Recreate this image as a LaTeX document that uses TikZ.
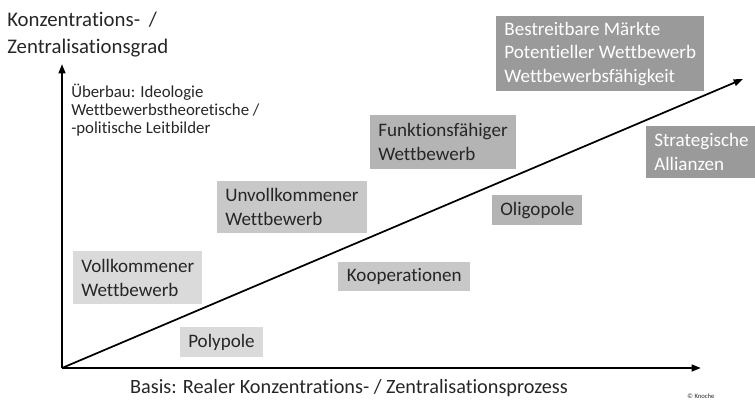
\documentclass[tikz,border=0pt]{standalone}
\usepackage{fontspec}
\setmainfont[Ligatures = NoCommon]{Carlito}
\usetikzlibrary{arrows.meta}
\definecolor{ink}{HTML}{262626}
\definecolor{lightbox}{HTML}{DADADA}
\definecolor{midbox}{HTML}{C8C8C8}
\definecolor{darkbox}{HTML}{B4B4B4}
\definecolor{deepbox}{HTML}{9A9A9A}
\tikzset{
    box/.style = {anchor = north west, inner xsep = 6pt, inner ysep = 3pt, align = left, text = ink,
                  font = \fontsize{14.3}{17.8}\selectfont},
    axis/.style = {line width = 1.6pt, -{Triangle[length = 7pt, width = 5pt]}}
}
\begin{document}
\begin{tikzpicture}[x = 0.75pt, y = -0.75pt]
        \useasboundingbox (0, 0) rectangle (755, 400);
        \coordinate (origin) at (62, 368);
        \coordinate (ytip) at (62, 64);
        \coordinate (xtip) at (701, 368);
        \coordinate (dtip) at (743, 79);
        \draw[axis] (origin) -- (ytip);
        \draw[axis] (origin) -- (xtip);
        \draw[axis, line width = 1.3pt] (origin) -- (dtip);
        \node[box, fill = lightbox, minimum width = 128*0.75pt, minimum height = 53*0.75pt] (voll) at (73, 251) {Vollkommener\\Wettbewerb};
        \node[box, fill = lightbox, minimum width = 82*0.75pt, minimum height = 30*0.75pt] (poly) at (180, 327) {Polypole};
        \node[box, fill = midbox, minimum width = 148*0.75pt, minimum height = 52*0.75pt] (unvoll) at (217, 181) {Unvollkommener\\Wettbewerb};
        \node[box, fill = midbox, minimum width = 132*0.75pt, minimum height = 29*0.75pt] (koop) at (338, 262) {Kooperationen};
        \node[box, fill = darkbox, minimum width = 145*0.75pt, minimum height = 54*0.75pt] (funk) at (370, 115) {Funktionsfähiger\\Wettbewerb};
        \node[box, fill = darkbox, minimum width = 89*0.75pt, minimum height = 30*0.75pt] (oligo) at (492, 195) {Oligopole};
        \node[box, fill = deepbox, text = white, minimum width = 208*0.75pt, minimum height = 75*0.75pt] (bestr) at (496, 16) {Bestreitbare Märkte\\Potentieller Wettbewerb\\Wettbewerbsfähigkeit};
        \node[box, fill = deepbox, text = white, minimum width = 108*0.75pt, minimum height = 52*0.75pt] (strat) at (646, 126) {Strategische\\Allianzen};
        % Achsen
        \node[anchor = north west, inner sep = 0, align = left, text = ink, font = \fontsize{15.6}{20}\selectfont] (ylabel) at (7, 12) {Konzentrations-\hspace{3pt} /\\Zentralisationsgrad};
        \node[anchor = north west, inner sep = 0, align = left, text = ink, font = \fontsize{12.6}{13.4}\selectfont] (ueberbau) at (71, 84) {Überbau: Ideologie\\Wettbewerbstheoretische /\\-politische Leitbilder};
        \node[inner sep = 0, text = ink, font = \fontsize{15.2}{18}\selectfont] (xlabel) at (349, 388) {Basis: Realer Konzentrations- / Zentralisationsprozess};
        \node[inner sep = 0, text = ink, font = \fontsize{5}{6}\selectfont] (copy) at (701, 396) {© Knoche};
    \end{tikzpicture}
\end{document}
